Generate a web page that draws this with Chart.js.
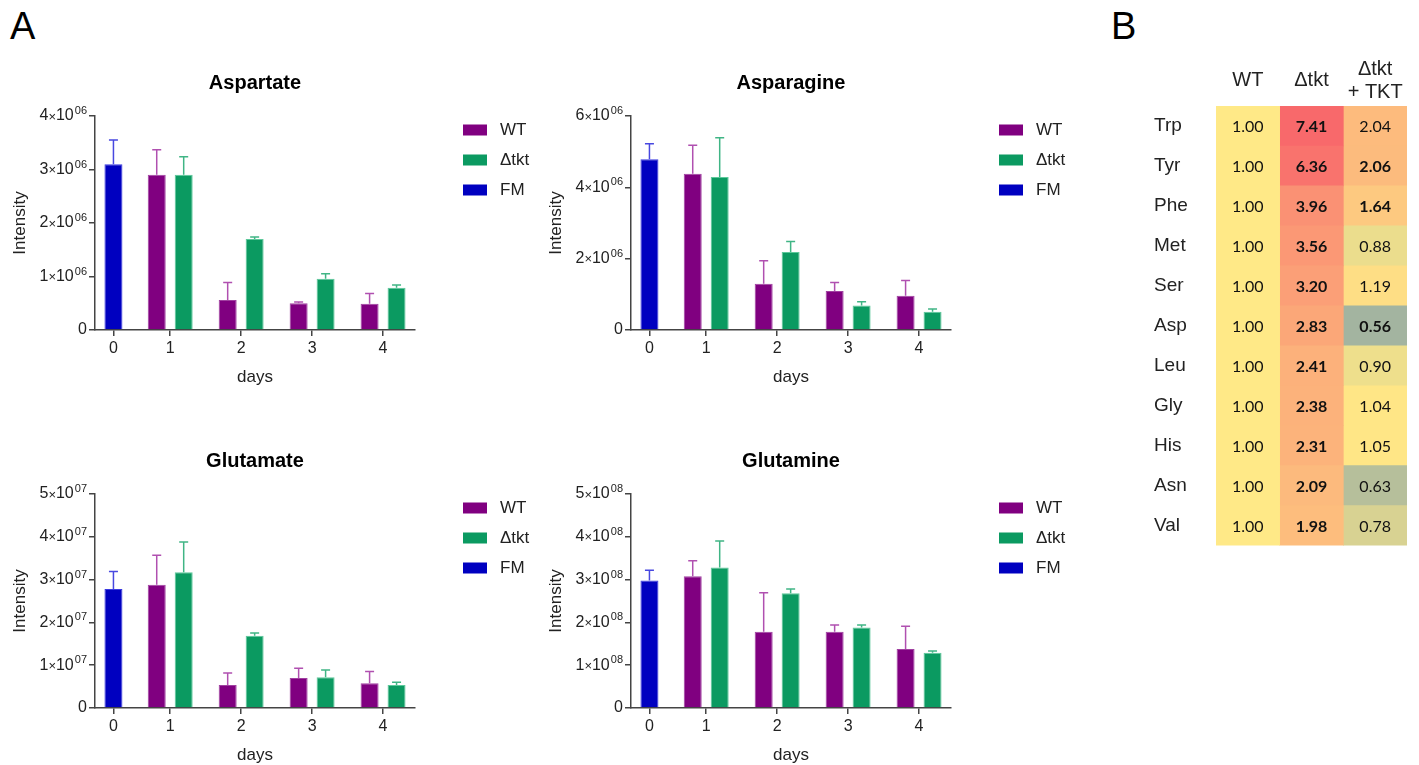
<!DOCTYPE html>
<html>
<head>
<meta charset="utf-8">
<script src="https://cdn.jsdelivr.net/npm/chart.js@4.4.1/dist/chart.umd.min.js"></script>
<style>
  html, body { margin: 0; padding: 0; background: #fff; overflow: hidden; }
  #page { position: relative; width: 1419px; height: 765px; font-family: 'Liberation Sans', Arial, sans-serif; }
  .box { position: absolute; }
  .panel { position: absolute; font-size: 38px; line-height: 1; color: #000; }
</style>
</head>
<body>
<div id="page">
  <div class="panel" style="left:10px;top:7px">A</div>
  <div class="panel" style="left:1111px;top:7px">B</div>
  <canvas class="box" id="aspChart" width="536" height="392" style="left:0;top:0"></canvas>
  <canvas class="box" id="asnChart" width="536" height="392" style="left:536px;top:0"></canvas>
  <canvas class="box" id="gluChart" width="536" height="392" style="left:0;top:378px"></canvas>
  <canvas class="box" id="glnChart" width="536" height="392" style="left:536px;top:378px"></canvas>
  <canvas class="box" id="heatChart" width="319" height="520" style="left:1100px;top:40px"></canvas>
</div>
<script>
// ---- panel A data ----
const days = ["0", "1", "2", "3", "4"];

const aspFM = [3.10e6, null, null, null, null];
const aspFMErr = [0.45e6, null, null, null, null];
const aspWT = [null, 2.90e6, 0.56e6, 0.50e6, 0.49e6];
const aspWTErr = [null, 0.47e6, 0.33e6, 0.025e6, 0.19e6];
const aspKO = [null, 2.90e6, 1.70e6, 0.96e6, 0.79e6];
const aspKOErr = [null, 0.34e6, 0.04e6, 0.09e6, 0.05e6];

const asnFM = [4.79e6, null, null, null, null];
const asnFMErr = [0.43e6, null, null, null, null];
const asnWT = [null, 4.38e6, 1.30e6, 1.09e6, 0.96e6];
const asnWTErr = [null, 0.80e6, 0.64e6, 0.24e6, 0.43e6];
const asnKO = [null, 4.29e6, 2.19e6, 0.69e6, 0.51e6];
const asnKOErr = [null, 1.10e6, 0.29e6, 0.10e6, 0.08e6];

const gluFM = [2.78e7, null, null, null, null];
const gluFMErr = [0.41e7, null, null, null, null];
const gluWT = [null, 2.88e7, 0.54e7, 0.70e7, 0.58e7];
const gluWTErr = [null, 0.69e7, 0.28e7, 0.23e7, 0.27e7];
const gluKO = [null, 3.17e7, 1.69e7, 0.72e7, 0.54e7];
const gluKOErr = [null, 0.71e7, 0.06e7, 0.17e7, 0.06e7];

const glnFM = [2.98e8, null, null, null, null];
const glnFMErr = [0.24e8, null, null, null, null];
const glnWT = [null, 3.08e8, 1.78e8, 1.78e8, 1.38e8];
const glnWTErr = [null, 0.36e8, 0.91e8, 0.16e8, 0.53e8];
const glnKO = [null, 3.28e8, 2.68e8, 1.88e8, 1.29e8];
const glnKOErr = [null, 0.62e8, 0.10e8, 0.06e8, 0.04e8];

// ---- panel B data ----
const aminoAcids = ["Trp", "Tyr", "Phe", "Met", "Ser", "Asp", "Leu", "Gly", "His", "Asn", "Val"];
const heatCols = ["WT", "Δtkt", ["Δtkt", "+ TKT"]];
const wtFold = [1.00, 1.00, 1.00, 1.00, 1.00, 1.00, 1.00, 1.00, 1.00, 1.00, 1.00];
const dtktFold = [7.41, 6.36, 3.96, 3.56, 3.20, 2.83, 2.41, 2.38, 2.31, 2.09, 1.98];
const compFold = [2.04, 2.06, 1.64, 0.88, 1.19, 0.56, 0.90, 1.04, 1.05, 0.63, 0.78];
const wtSig = wtFold.map(() => false);
const dtktSig = dtktFold.map(() => true);
const compSig = [false, true, true, false, false, true, false, false, false, false, false];

Chart.defaults.font.family = "'Liberation Sans', Arial, sans-serif";
Chart.defaults.color = "#222";
Chart.defaults.animation = false;

const dayX = (i) => (i === 0 ? 0.2 : i); // day 0 sits closer to day 1
const PAIR = 0.19;

function points(vals, errs, shift) {
  const out = [];
  vals.forEach((v, i) => {
    if (v === null) return;
    out.push({ x: dayX(i) + shift, y: v, err: errs[i] });
  });
  return out;
}

const errorBars = {
  id: "errorBars",
  afterDatasetsDraw(chart) {
    const ctx = chart.ctx;
    const yScale = chart.scales.y;
    chart.data.datasets.forEach((ds, di) => {
      const meta = chart.getDatasetMeta(di);
      ctx.save();
      ctx.strokeStyle = ds.errColor;
      ctx.lineWidth = 1.5;
      meta.data.forEach((bar, i) => {
        const p = ds.data[i];
        const top = yScale.getPixelForValue(p.y + p.err);
        ctx.beginPath();
        ctx.moveTo(bar.x, bar.y);
        ctx.lineTo(bar.x, top);
        ctx.moveTo(bar.x - 4.5, top);
        ctx.lineTo(bar.x + 4.5, top);
        ctx.stroke();
      });
      ctx.restore();
    });
  },
};

const sideLegend = {
  id: "sideLegend",
  afterDraw(chart) {
    const { ctx, chartArea } = chart;
    const x0 = chartArea.right + 48;
    ctx.save();
    chart.data.datasets.forEach((ds, i) => {
      const y = chartArea.top + 14 + i * 30;
      ctx.fillStyle = ds.backgroundColor;
      ctx.fillRect(x0, y - 5.5, 24, 11);
      ctx.fillStyle = "#222";
      ctx.font = "17px 'Liberation Sans', Arial, sans-serif";
      ctx.textBaseline = "middle";
      ctx.fillText(ds.label, x0 + 37, y);
    });
    ctx.restore();
  },
};

// y tick labels like 4×10^06, with the exponent drawn as a real superscript
const sciTicks = {
  id: "sciTicks",
  afterDraw(chart) {
    const { ctx } = chart;
    const s = chart.scales.y;
    const exp = chart.options.plugins.sciTicks.exp;
    const sup = String(exp).padStart(2, "0");
    const xr = s.right - 6 - 2;
    ctx.save();
    ctx.fillStyle = "#222";
    ctx.textAlign = "right";
    ctx.textBaseline = "middle";
    s.ticks.forEach((t) => {
      const y = s.getPixelForValue(t.value);
      if (t.value === 0) {
        ctx.font = "16px 'Liberation Sans', Arial, sans-serif";
        ctx.fillText("0", xr, y);
        return;
      }
      const mant = Math.round(t.value / Math.pow(10, exp));
      ctx.font = "11px 'Liberation Sans', Arial, sans-serif";
      ctx.fillText(sup, xr, y - 5);
      const w = ctx.measureText(sup).width + 1;
      ctx.font = "16px 'Liberation Sans', Arial, sans-serif";
      ctx.fillText("10", xr - w, y);
      const w2 = ctx.measureText("10").width;
      ctx.font = "13px 'Liberation Sans', Arial, sans-serif";
      ctx.fillText("×", xr - w - w2, y + 1);
      const w3 = ctx.measureText("×").width;
      ctx.font = "16px 'Liberation Sans', Arial, sans-serif";
      ctx.fillText(String(mant), xr - w - w2 - w3, y);
    });
    ctx.restore();
  },
};

function makeBarChart(id, title, fm, fmErr, wt, wtErr, ko, koErr, yMax, yStep, exp) {
  const ctx = document.getElementById(id).getContext("2d");
  return new Chart(ctx, {
    type: "bar",
    data: {
      datasets: [
        { label: "WT", data: points(wt, wtErr, -PAIR), backgroundColor: "#800080", borderColor: "#a040a0", errColor: "#b050b0" },
        { label: "Δtkt", data: points(ko, koErr, PAIR), backgroundColor: "#0b9a61", borderColor: "#5cc89a", errColor: "#40b585" },
        { label: "FM", data: points(fm, fmErr, 0), backgroundColor: "#0000c0", borderColor: "#3a3ae0", errColor: "#4848e0" },
      ],
    },
    options: {
      responsive: false,
      grouped: false,
      maxBarThickness: 18,
      borderWidth: 1,
      layout: { padding: { left: 6, right: 121, top: 71, bottom: 0 } },
      plugins: {
        legend: { display: false },
        tooltip: { enabled: false },
        sciTicks: { exp: exp },
        title: {
          display: true,
          text: title,
          fullSize: false,
          color: "#000",
          font: { size: 20, weight: "bold" },
          padding: { top: 0, bottom: 21 },
        },
      },
      scales: {
        x: {
          type: "linear",
          min: -0.06,
          max: 4.45,
          offset: false,
          afterBuildTicks: (s) => {
            s.ticks = days.map((d, i) => ({ value: dayX(i) }));
          },
          afterFit: (s) => {
            s.height = 62;
          },
          ticks: { callback: (v, i) => days[i], autoSkip: false, maxRotation: 0, padding: 3, font: { size: 16 } },
          grid: { offset: false, drawOnChartArea: false, tickLength: 6, color: "#444", lineWidth: 1.5 },
          border: { color: "#444", width: 1.5 },
          title: { display: true, text: "days", font: { size: 17 }, padding: { top: 4, bottom: 4 } },
        },
        y: {
          min: 0,
          max: yMax,
          afterFit: (s) => {
            s.width = 89;
          },
          ticks: { stepSize: yStep, display: false },
          grid: { drawOnChartArea: false, tickLength: 6, color: "#444", lineWidth: 1.5 },
          border: { color: "#444", width: 1.5 },
          title: { display: true, text: "Intensity", font: { size: 17 }, padding: { top: 4, bottom: 4 } },
        },
      },
    },
    plugins: [errorBars, sideLegend, sciTicks],
  });
}

makeBarChart("aspChart", "Aspartate", aspFM, aspFMErr, aspWT, aspWTErr, aspKO, aspKOErr, 4e6, 1e6, 6);
makeBarChart("asnChart", "Asparagine", asnFM, asnFMErr, asnWT, asnWTErr, asnKO, asnKOErr, 6e6, 2e6, 6);
makeBarChart("gluChart", "Glutamate", gluFM, gluFMErr, gluWT, gluWTErr, gluKO, gluKOErr, 5e7, 1e7, 7);
makeBarChart("glnChart", "Glutamine", glnFM, glnFMErr, glnWT, glnWTErr, glnKO, glnKOErr, 5e8, 1e8, 8);

// ---- heatmap (log colour scale around 1.00) ----
const allFold = wtFold.concat(dtktFold, compFold);
const heatLo = Math.log(Math.min(...allFold));
const heatHi = Math.log(Math.max(...allFold));

function heatColor(v) {
  const l = Math.log(v);
  const mid = [255, 233, 135];
  const end = l < 0 ? [163, 180, 160] : [248, 105, 107];
  const t = l < 0 ? l / heatLo : l / heatHi;
  const c = mid.map((m, k) => Math.round(m + (end[k] - m) * t));
  return "rgb(" + c.join(",") + ")";
}

const cellLabels = {
  id: "cellLabels",
  afterDatasetsDraw(chart) {
    const ctx = chart.ctx;
    ctx.save();
    ctx.fillStyle = "#111";
    ctx.textAlign = "center";
    ctx.textBaseline = "middle";
    chart.data.datasets.forEach((ds, di) => {
      chart.getDatasetMeta(di).data.forEach((cell, i) => {
        const c = cell.getCenterPoint();
        ctx.font = (ds.bold[i] ? "bold " : "") + "16px Lato, sans-serif";
        ctx.fillText(ds.values[i].toFixed(2), c.x, c.y + 1);
      });
    });
    ctx.restore();
  },
};

const heatColumns = [
  { vals: wtFold, sig: wtSig },
  { vals: dtktFold, sig: dtktSig },
  { vals: compFold, sig: compSig },
];

new Chart(document.getElementById("heatChart").getContext("2d"), {
  type: "bar",
  data: {
    labels: aminoAcids,
    datasets: heatColumns.map((col, j) => ({
      data: col.vals.map(() => [j, j + 1]),
      values: col.vals,
      bold: col.sig,
      backgroundColor: col.vals.map(heatColor),
      borderWidth: 0,
    })),
  },
  options: {
    responsive: false,
    indexAxis: "y",
    grouped: false,
    barPercentage: 1,
    categoryPercentage: 1,
    layout: { padding: { left: 54, right: 12, top: 0, bottom: 12 } },
    plugins: { legend: { display: false }, tooltip: { enabled: false } },
    scales: {
      x: {
        type: "linear",
        position: "top",
        min: 0,
        max: 3,
        afterBuildTicks: (s) => {
          s.ticks = heatCols.map((h, i) => ({ value: i + 0.5 }));
        },
        afterFit: (s) => {
          s.height = 66;
        },
        ticks: {
          callback: (v, i) => heatCols[i],
          crossAlign: "center",
          autoSkip: false,
          maxRotation: 0,
          padding: 14,
          font: { size: 20, lineHeight: 1.15 },
        },
        grid: { display: false, drawTicks: false },
        border: { display: false },
      },
      y: {
        afterFit: (s) => {
          s.width = 62;
        },
        ticks: { crossAlign: "far", font: { size: 19 } },
        grid: { display: false, drawTicks: false },
        border: { display: false },
      },
    },
  },
  plugins: [cellLabels],
});
</script>
</body>
</html>
